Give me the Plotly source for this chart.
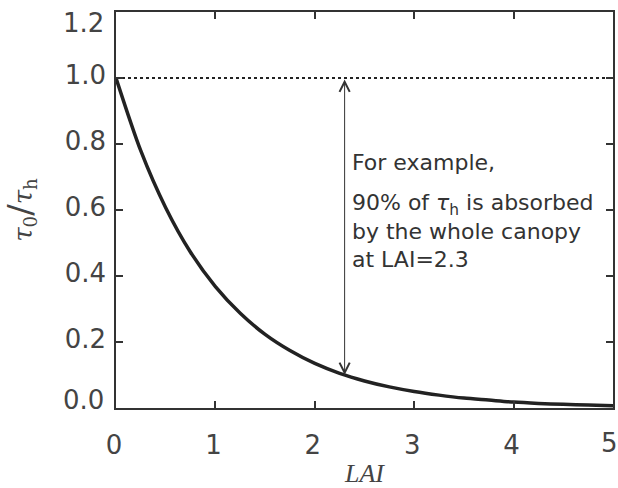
import plotly.graph_objects as go

lai = [0, 0.25, 0.5, 0.75, 1.0, 1.25, 1.5, 1.75, 2.0, 2.25, 2.5, 2.75, 3.0, 3.25, 3.5, 3.75, 4.0, 4.25, 4.5, 4.75, 5.0]
ratio = [1.0, 0.779, 0.607, 0.472, 0.368, 0.287, 0.223, 0.174, 0.135, 0.105, 0.082, 0.064, 0.050,
         0.039, 0.030, 0.024, 0.018, 0.014, 0.011, 0.009, 0.007]
ref_level = 1.0
example_lai = 2.3
example_ratio = 0.1
x_ticks = [0, 1, 2, 3, 4, 5]
x_labels = ["0", "1", "2", "3", "4", ""]
y_ticks = [0.0, 0.2, 0.4, 0.6, 0.8, 1.0, 1.2]
y_labels = ["", "0.2", "0.4", "0.6", "0.8", "1.0", ""]
x_max, y_min, y_max = 5, 0.0, 1.2

ink = "#333333"
label_col = "#444444"
tick_font = dict(family="DejaVu Sans", size=26, color=label_col)

fig = go.Figure()
fig.add_trace(go.Scatter(x=[0, 5], y=[ref_level, ref_level], mode="lines",
                         line=dict(color="#222222", width=2, dash="dot"),
                         showlegend=False, hoverinfo="skip"))
fig.add_trace(go.Scatter(x=lai, y=ratio, mode="lines",
                         line=dict(color="#222222", width=3.5, shape="spline", smoothing=0.8),
                         showlegend=False))

fig.add_annotation(x=example_lai, y=example_ratio, ax=example_lai, ay=ref_level,
                   xref="x", yref="y", axref="x", ayref="y", text="",
                   showarrow=True, arrowhead=5, startarrowhead=5, arrowside="end+start",
                   arrowsize=2, startarrowsize=2, arrowwidth=1, arrowcolor="#333333")

fig.add_annotation(x=2.355, y=0.745, xref="x", yref="y", text="For example,",
                   showarrow=False, xanchor="left", yanchor="middle", align="left",
                   font=dict(family="DejaVu Sans", size=22, color=ink))
fig.add_annotation(x=2.355, y=0.535, xref="x", yref="y",
                   text="90% of <i>τ</i><sub>h</sub> is absorbed<br>by the whole canopy<br>at LAI=2.3",
                   showarrow=False, xanchor="left", yanchor="middle", align="left",
                   font=dict(family="DejaVu Sans", size=22, color=ink))

# edge tick labels, nudged inward as in the reference
fig.add_annotation(x=0, y=y_max, xref="x", yref="y", text="1.2", showarrow=False,
                   xanchor="right", yanchor="middle", xshift=-10, yshift=-11, font=tick_font)
fig.add_annotation(x=0, y=y_min, xref="x", yref="y", text="0.0", showarrow=False,
                   xanchor="right", yanchor="middle", xshift=-10, yshift=8, font=tick_font)
fig.add_annotation(x=x_max, y=y_min, xref="x", yref="y", text="5", showarrow=False,
                   xanchor="center", yanchor="middle", xshift=-4, yshift=-35, font=tick_font)

axis_common = dict(showline=True, linecolor=ink, linewidth=1.5, mirror="ticks", ticks="inside",
                   ticklen=7, tickwidth=1.5, tickcolor=ink, showgrid=False, zeroline=False,
                   tickfont=tick_font)

fig.update_xaxes(range=[0, x_max], tickvals=x_ticks, ticktext=x_labels, ticklabelstandoff=13,
                 ticklabelshift=-2,
                 title=dict(text="<i>LAI</i>", font=dict(family="Liberation Serif", size=26, color=label_col),
                            standoff=18), **axis_common)
fig.update_yaxes(range=[y_min, y_max], tickvals=y_ticks, ticktext=y_labels, ticklabelstandoff=3,
                 ticklabelshift=-3,
                 title=dict(text="<i>τ</i><sub>0</sub><span style='font-size:34px'>/</span><i>τ</i><sub>h</sub>",
                            font=dict(family="DejaVu Serif", size=26, color=label_col), standoff=26),
                 **axis_common)

fig.update_layout(width=618, height=488, margin=dict(l=116, r=5, t=12, b=80, autoexpand=False),
                  plot_bgcolor="white", paper_bgcolor="white")
fig.write_html("out.html")
